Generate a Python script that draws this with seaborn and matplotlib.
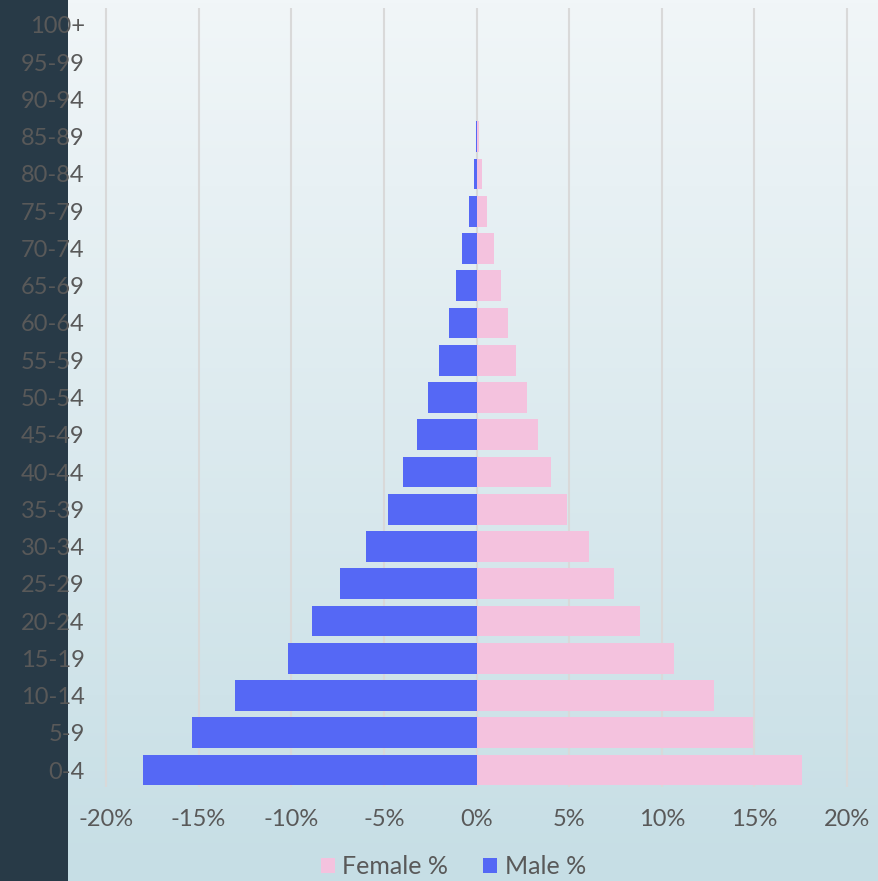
import numpy as np
import pandas as pd
import seaborn as sns
import matplotlib.pyplot as plt
from matplotlib.colors import LinearSegmentedColormap
from matplotlib.patches import Patch

ages = ['0-4', '5-9', '10-14', '15-19', '20-24', '25-29', '30-34', '35-39', '40-44',
        '45-49', '50-54', '55-59', '60-64', '65-69', '70-74', '75-79', '80-84',
        '85-89', '90-94', '95-99', '100+']
male = [18.0, 15.35, 13.05, 10.15, 8.9, 7.35, 5.95, 4.8, 3.95, 3.2, 2.6, 2.0, 1.5,
        1.12, 0.76, 0.38, 0.16, 0.05, 0.0, 0.0, 0.0]
female = [17.55, 14.95, 12.8, 10.65, 8.8, 7.4, 6.05, 4.9, 4.0, 3.3, 2.75, 2.15, 1.68,
          1.3, 0.97, 0.59, 0.32, 0.15, 0.0, 0.0, 0.0]

df = pd.DataFrame({
    'age': ages * 2,
    'pct': female + [-v for v in male],
    'sex': ['Female %'] * len(ages) + ['Male %'] * len(ages),
})

pink = '#F4C2DE'
blue = '#5568F5'
text_col = '#595959'

plt.rcParams['font.family'] = ['Lato', 'DejaVu Sans']

fig = plt.figure(figsize=(8.79, 8.81), dpi=100)
fig.patch.set_facecolor('#283A47')

left = 68 / 879
# gradient background to the right of the dark strip
bg = fig.add_axes([left, 0, 1 - left, 1])
grad = np.linspace(0, 1, 256).reshape(-1, 1)
cmap = LinearSegmentedColormap.from_list('bg', ['#F1F6F8', '#C6DEE5'])
bg.imshow(grad, aspect='auto', cmap=cmap, extent=[0, 1, 0, 1], origin='upper')
bg.axis('off')

ax = fig.add_axes([left, (881 - 787) / 881, 1 - left, (787 - 8) / 881])
ax.set_zorder(1)
ax.patch.set_alpha(0)

sns.barplot(data=df, x='pct', y='age', hue='sex', order=ages[::-1],
            hue_order=['Female %', 'Male %'], palette=[pink, blue], saturation=1,
            dodge=False, width=0.83, orient='h', ax=ax, legend=False, linewidth=0)

ppu = (847 - 106) / 40
ax.set_xlim(-20 - (106 - 68) / ppu, 20 + (879 - 847) / ppu)
ax.set_ylim(20.456, -0.456)
ax.set_xticks(range(-20, 21, 5))
ax.set_xticklabels([f'{v}%' for v in range(-20, 21, 5)])
ax.grid(axis='x', color='#D9D9D9', linewidth=1.5)
ax.set_axisbelow(True)
for s in ax.spines.values():
    s.set_visible(False)
ax.set_xlabel('')
ax.set_ylabel('')
ax.tick_params(axis='y', length=0, pad=-12, labelsize=17, labelcolor=text_col)
ax.tick_params(axis='x', length=0, pad=16, labelsize=17, labelcolor=text_col)
for lab in ax.get_yticklabels():
    lab.set_horizontalalignment('right')

handles = [Patch(facecolor=pink, label='Female %'), Patch(facecolor=blue, label='Male %')]
fig.legend(handles=handles, loc='center', bbox_to_anchor=(0.516, 0.016), ncol=2,
           frameon=False, fontsize=18, labelcolor=text_col, handlelength=0.55,
           handleheight=0.55, handletextpad=0.3, columnspacing=1.4)

fig.savefig('out.png', dpi=100, facecolor=fig.get_facecolor())
